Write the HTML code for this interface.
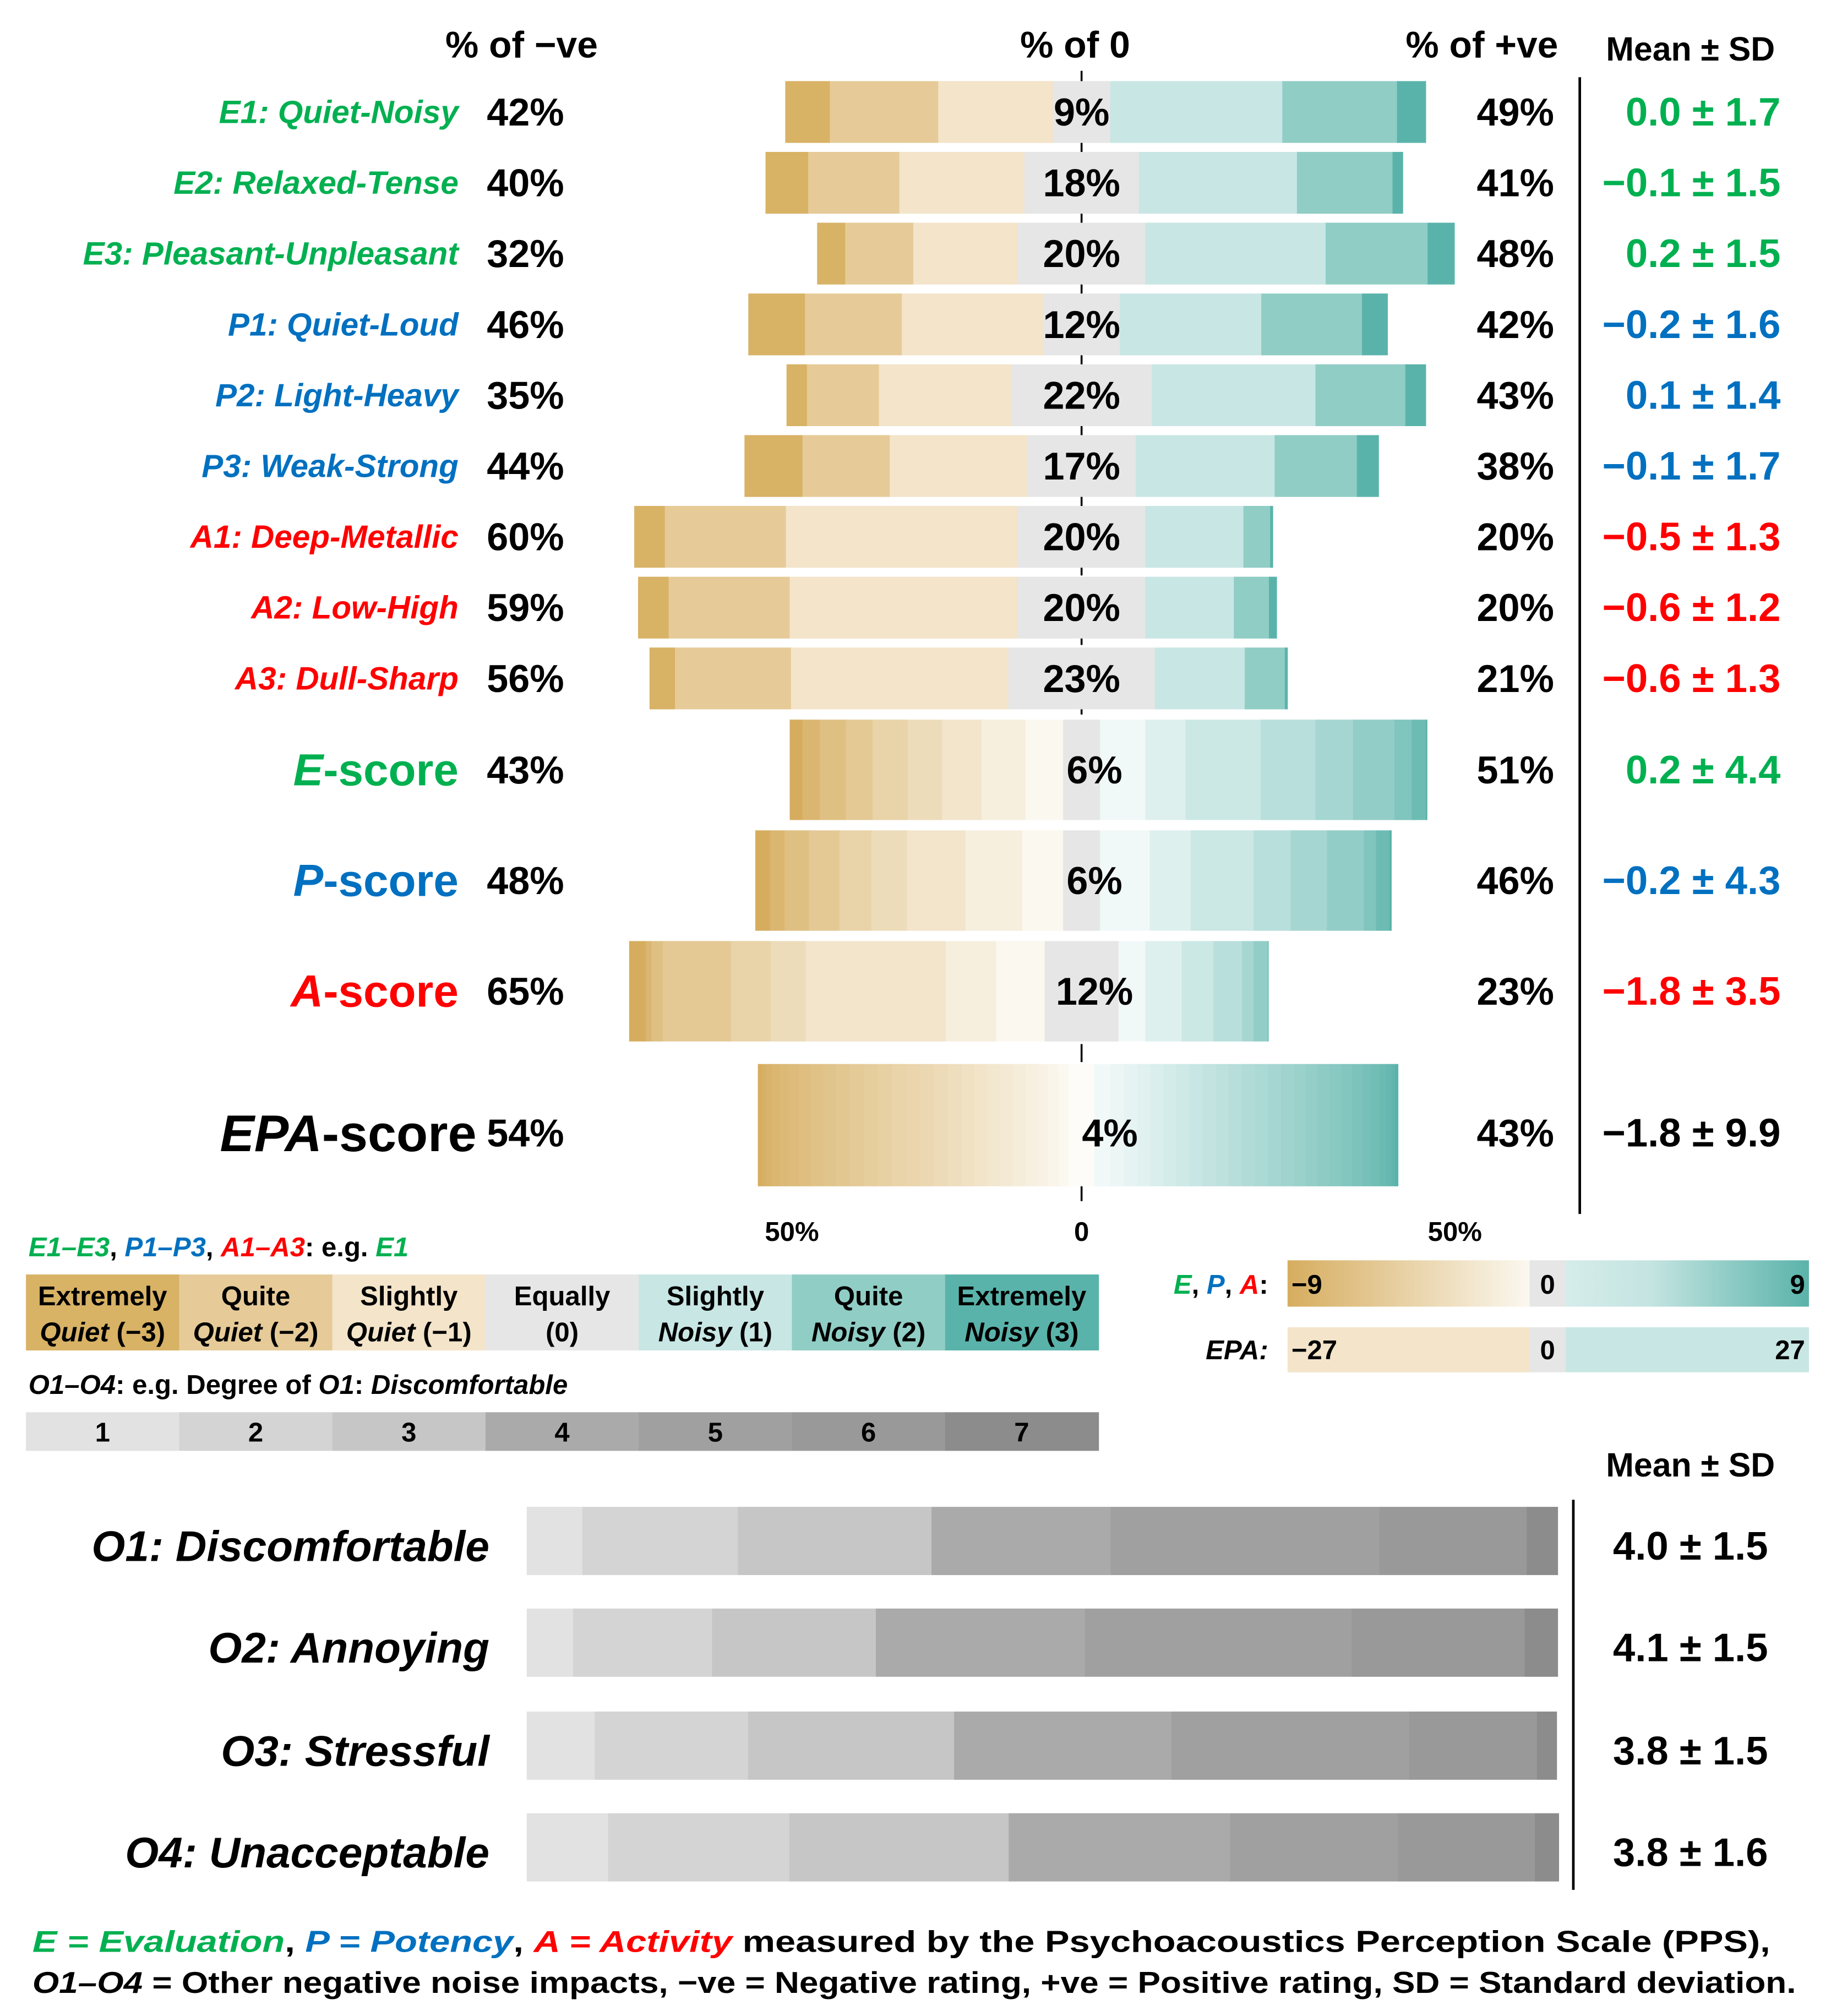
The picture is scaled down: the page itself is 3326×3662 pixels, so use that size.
<!DOCTYPE html>
<html><head><meta charset="utf-8"><style>
html,body{margin:0;padding:0;background:#fff}
svg{display:block}
text{font-family:"Liberation Sans",sans-serif;font-weight:bold}
</style></head><body>
<svg id="chart" xmlns="http://www.w3.org/2000/svg" width="3326" height="3662" viewBox="0 0 1422 1566">
<g id="g"></g>
</svg>
<script>
// ---- data ----
const itemLabels = ["E1","E2","E3","P1","P2","P3","A1","A2","A3"];
const itemNames = [": Quiet-Noisy",": Relaxed-Tense",": Pleasant-Unpleasant",": Quiet-Loud",": Light-Heavy",": Weak-Strong",": Deep-Metallic",": Low-High",": Dull-Sharp"];
const itemGroup = ["E","E","E","P","P","P","A","A","A"];
// percentages for -3,-2,-1,0,+1,+2,+3
const itemValues = [
 [7,17,18,9,27,18,4.5],
 [6.7,14.3,19.6,18,24.8,15,1.6],
 [4.4,10.7,16.4,20,28.3,16,4.2],
 [8.9,15.2,22.2,12,22.2,15.8,4],
 [3.2,11.3,20.8,22,25.7,14.1,3.2],
 [9.1,13.7,21.6,17,21.8,12.9,3.4],
 [4.8,19,36.4,20,15.4,4.2,0.4],
 [4.8,19,35.8,20,13.9,5.5,1.2],
 [4,18.2,34.1,23,14.1,6.3,0.4]
];
const itemNeg = ["42%","40%","32%","46%","35%","44%","60%","59%","56%"];
const itemZero = ["9%","18%","20%","12%","22%","17%","20%","20%","23%"];
const itemPos = ["49%","41%","48%","42%","43%","38%","20%","20%","21%"];
const itemMean = ["0.0 ± 1.7","−0.1 ± 1.5","0.2 ± 1.5","−0.2 ± 1.6","0.1 ± 1.4","−0.1 ± 1.7","−0.5 ± 1.3","−0.6 ± 1.2","−0.6 ± 1.3"];
// score values -9..-1 | 0 | +1..+9
const eNeg = [2.0,2.7,4.1,4.2,5.5,5.4,6.2,6.9,5.9];
const eZero = 5.8;
const ePos = [7.1,6.3,11.8,8.6,5.9,6.5,2.7,2.2,0.2];
const pNeg = [2.3,2.3,3.8,4.8,5.0,5.6,9.2,8.9,6.4];
const pZero = 5.8;
const pPos = [7.8,6.4,9.9,5.8,5.7,5.8,1.9,2.1,0.3];
const aNeg = [2.6,0.9,1.8,10.7,6.2,5.5,22,7.9,7.6];
const aZero = 11.6;
const aPos = [4.2,5.7,5.0,4.5,1.8,2.2,0.1,0,0];
const scoreNegText = ["43%","48%","65%"];
const scoreZeroText = ["6%","6%","12%"];
const scorePosText = ["51%","46%","23%"];
const scoreMean = ["0.2 ± 4.4","−0.2 ± 4.3","−1.8 ± 3.5"];
// EPA -27..-1 | 0 | +1..+27
const epaNeg = [0.6,0.6,1,1.2,1.4,1.6,1.8,2,2,2.2,2.2,2.2,2.2,2.2,2.2,2.2,2.2,2.2,2.0,2.0,2.0,2,2,2,1.6,1.6,1.6];
const epaZero = 4;
const epaPos = [2.45,2.25,2.05,2.05,2.05,2.05,2.05,2.05,2.05,2.05,2.05,2.05,2.05,2.05,2.05,1.85,1.85,1.85,1.85,1.65,1.65,1.45,1.25,1.05,0.85,0.55,0.45];
// O items, degrees 1..7
const oLabels = ["O1",  "O2", "O3", "O4"];
const oNames = [": Discomfortable",": Annoying",": Stressful",": Unacceptable"];
const oValues = [
 [5.4,15.1,18.8,17.4,26.1,14.3,3.0],
 [4.5,13.5,15.9,20.3,25.9,16.8,3.2],
 [6.6,14.9,20,21.1,23.1,12.4,1.9],
 [7.9,17.6,21.3,21.5,16.3,13.3,2.3]
];
const oMean = ["4.0 ± 1.5","4.1 ± 1.5","3.8 ± 1.5","3.8 ± 1.6"];

// ---- helpers ----
const NS="http://www.w3.org/2000/svg";
const G=document.getElementById('g');
const CX=840, PX=4.95;
const xs = p => p*PX; // percent -> px
const col = {E:"#00b050",P:"#0070c0",A:"#ff0000"};
const C7 = ["#d8b265","#e6cb98","#f3e4ca","#e6e6e6","#c8e6e4","#90cdc5","#5ab3aa"];
const O7 = ["#e2e2e2","#d4d4d4","#c6c6c6","#aaaaaa","#a0a0a0","#999999","#8c8c8c"];
function mk(tag,attrs,parent){const e=document.createElementNS(NS,tag);for(const k in attrs)e.setAttribute(k,attrs[k]);(parent||G).appendChild(e);return e;}
function txt(x,y,s,size,anchor,fill,style,parent){const t=mk('text',{x:x,y:y,'font-size':size,'text-anchor':anchor||'start',fill:fill||'#000','dominant-baseline':'central'},parent);if(style)t.setAttribute('font-style',style);t.textContent=s;return t;}
function lerp(a,b,t){const pa=[1,3,5].map(i=>parseInt(a.substr(i,2),16)),pb=[1,3,5].map(i=>parseInt(b.substr(i,2),16));return 'rgb('+pa.map((v,i)=>Math.round(v+(pb[i]-v)*t)).join(',')+')';}
function drawDiverging(neg,zero,pos,negCols,zeroCol,posCols,y,h,name){
  const g=mk('g',{});
  
  
  let total=neg.reduce((a,b)=>a+b,0);
  let x=CX-xs(zero/2)-xs(total);
  neg.forEach((v,i)=>{const r=mk('rect',{x:x,y:y-h/2,width:xs(v)+0.3,height:h,fill:negCols[i]},g);x+=xs(v);});
  const z=mk('rect',{x:x,y:y-h/2,width:xs(zero)+0.3,height:h,fill:zeroCol},g);x+=xs(zero);
  pos.forEach((v,i)=>{const r=mk('rect',{x:x,y:y-h/2,width:xs(v)+0.3,height:h,fill:posCols[i]},g);x+=xs(v);});
}
function negScale(n){const a=[];for(let i=0;i<n;i++)a.push(lerp("#d6ad5f","#fbf8f0",i/(n-1)));return a;}
function posScale(n){const a=[];for(let i=0;i<n;i++)a.push(lerp("#f1f9f8","#5ab3aa",i/(n-1)));return a;}

// headers
txt(405,35,"% of −ve",29,'middle');
txt(835,35,"% of 0",29,'middle');
txt(1151,35,"% of +ve",29,'middle');
txt(1313,38,"Mean ±  SD",26,'middle');

// center axis ticks
mk('line',{x1:CX,y1:55,x2:CX,y2:940,stroke:'#000','stroke-width':1.5,'stroke-dasharray':'14 40','stroke-dashoffset':0});
mk('line',{x1:1227,y1:60,x2:1227,y2:943,stroke:'#000','stroke-width':2});

// item rows
itemValues.forEach((v,i)=>{
  const y=87+55*i;
  drawDiverging(v.slice(0,3),v[3],v.slice(4),C7.slice(0,3),C7[3],C7.slice(4),y,48,'bar-'+itemLabels[i].toLowerCase());
  const t=txt(356,y,"",25,'end',col[itemGroup[i]],'italic');
  
  
  const s1=mk('tspan',{},t);s1.textContent=itemLabels[i];
  const s2=mk('tspan',{'font-style':'italic'},t);s2.textContent=itemNames[i];
  txt(378,y,itemNeg[i],30,'start');
  txt(CX,y,itemZero[i],30,'middle');
  txt(1207,y,itemPos[i],30,'end');
  txt(1383,y,itemMean[i],31,'end',col[itemGroup[i]]);
});

// score rows
const scoreData=[[eNeg,eZero,ePos],[pNeg,pZero,pPos],[aNeg,aZero,aPos]];
const scoreY=[598,684,770];
const scoreG=["E","P","A"];
scoreData.forEach((d,i)=>{
  drawDiverging(d[0],d[1],d[2],negScale(9),"#e6e6e6",posScale(9),scoreY[i],78,'bar-'+scoreG[i].toLowerCase()+'-score');
  const t=txt(356,scoreY[i],"",35,'end',col[scoreG[i]]);
  
  
  const s1=mk('tspan',{'font-style':'italic'},t);s1.textContent=scoreG[i];
  const s2=mk('tspan',{},t);s2.textContent="-score";
  txt(378,scoreY[i],scoreNegText[i],30,'start');
  txt(CX+10,scoreY[i],scoreZeroText[i],30,'middle');
  txt(1207,scoreY[i],scorePosText[i],30,'end');
  txt(1383,scoreY[i],scoreMean[i],31,'end',col[scoreG[i]]);
});
// EPA
drawDiverging(epaNeg,epaZero,epaPos,negScale(27),"#fdfcf8",posScale(27),874,95,'bar-epa-score');
(function(){const t=txt(370,880,"",40,'end','#000');
const a=mk('tspan',{'font-style':'italic'},t);a.textContent="EPA";const b=mk('tspan',{},t);b.textContent="-score";})();
txt(378,880,"54%",30,'start');
txt(862,880,"4%",30,'middle');
txt(1207,880,"43%",30,'end');
txt(1383,880,"−1.8 ± 9.9",31,'end');
txt(615,957,"50%",21,'middle');
txt(840,957,"0",21,'middle');
txt(1130,957,"50%",21,'middle');

// legend 1
(function(){const t=txt(22,969,"",21,'start','#000');
[["E1–E3",col.E,1],[", ","#000",0],["P1–P3",col.P,1],[", ","#000",0],["A1–A3",col.A,1],[": e.g. ","#000",0],["E1",col.E,1]].forEach(p=>{const s=mk('tspan',{fill:p[1]},t);if(p[2])s.setAttribute('font-style','italic');s.textContent=p[0];});})();
const leg1a=["Extremely","Quite","Slightly","Equally","Slightly","Quite","Extremely"];
const leg1b=[["Quiet"," (−3)"],["Quiet"," (−2)"],["Quiet"," (−1)"],[""," (0)"],["Noisy"," (1)"],["Noisy"," (2)"],["Noisy"," (3)"]];
leg1a.forEach((s,i)=>{
  const x=20+i*119;
  const r=mk('rect',{x:x,y:990,width:119.5,height:59,fill:C7[i]});
  
  
  txt(x+59.5,1007,s,21,'middle');
  const t=txt(x+59.5,1035,"",21,'middle');
  const a=mk('tspan',{'font-style':'italic'},t);a.textContent=leg1b[i][0];
  const b=mk('tspan',{},t);b.textContent=leg1b[i][1];
});
(function(){const t=txt(22,1076,"",21,'start');
[["O1–O4",1],[": e.g. Degree of ",0],["O1",1],[": ",0],["Discomfortable",1]].forEach(p=>{const s=mk('tspan',{},t);if(p[1])s.setAttribute('font-style','italic');s.textContent=p[0];});})();
O7.forEach((c,i)=>{
  const x=20+i*119;
  const r=mk('rect',{x:x,y:1097,width:119.5,height:30,fill:c});
  
  
  txt(x+59.5,1113,String(i+1),21,'middle');
});
// colorbars
(function(){const t=txt(985,998,"",21,'end');
[["E",col.E,1],[", ","#000",0],["P",col.P,1],[", ","#000",0],["A",col.A,1],[":","#000",0]].forEach(p=>{const s=mk('tspan',{fill:p[1]},t);if(p[2])s.setAttribute('font-style','italic');s.textContent=p[0];});})();
const defs=mk('defs',{});
const g1=mk('linearGradient',{id:'gn',x1:0,x2:1,y1:0,y2:0},defs);
mk('stop',{offset:0,'stop-color':'#d6ad5f'},g1);mk('stop',{offset:1,'stop-color':'#fbf8f0'},g1);
const g2=mk('linearGradient',{id:'gp',x1:0,x2:1,y1:0,y2:0},defs);
mk('stop',{offset:0,'stop-color':'#d5ecea'},g2);mk('stop',{offset:0.35,'stop-color':'#c4e4e1'},g2);mk('stop',{offset:1,'stop-color':'#5ab3aa'},g2);
mk('rect',{x:1000,y:979,width:188,height:36,fill:'url(#gn)'});
mk('rect',{x:1188,y:979,width:28,height:36,fill:'#e6e6e6'});
mk('rect',{x:1216,y:979,width:189,height:36,fill:'url(#gp)'});
txt(1003,998,"−9",21,'start');txt(1202,998,"0",21,'middle');txt(1402,998,"9",21,'end');
(function(){const t=txt(985,1049,"EPA:",21,'end');t.setAttribute('font-style','italic');})();
mk('rect',{x:1000,y:1031,width:188,height:35,fill:'#f3e4ca'});
mk('rect',{x:1188,y:1031,width:28,height:35,fill:'#e6e6e6'});
mk('rect',{x:1216,y:1031,width:189,height:35,fill:'#c8e6e4'});
txt(1003,1049,"−27",21,'start');txt(1202,1049,"0",21,'middle');txt(1402,1049,"27",21,'end');

// O chart
txt(1313,1138,"Mean ±  SD",26,'middle');
mk('line',{x1:1222,y1:1165,x2:1222,y2:1468,stroke:'#000','stroke-width':2});
const oY=[1197,1276,1356,1435];
const OX0=409, OW=800;
oValues.forEach((v,i)=>{
  const g=mk('g',{});
  
  
  let x=OX0;
  v.forEach((p,j)=>{const w=p/100*OW;const r=mk('rect',{x:x,y:oY[i]-26.5,width:w+0.3,height:53,fill:O7[j]},g);x+=w;});
  const t=txt(380,oY[i]+4,"",33.5,'end','#000','italic');
  
  
  const a=mk('tspan',{},t);a.textContent=oLabels[i];
  const b=mk('tspan',{},t);b.textContent=oNames[i];
  txt(1313,oY[i]+4,oMean[i],31,'middle');
});

// footer
(function(){const t=txt(25,1508,"",23.5,'start');
[["E = Evaluation",col.E,1],[", ","#000",0],["P = Potency",col.P,1],[", ","#000",0],["A = Activity",col.A,1],[" measured by the Psychoacoustics Perception Scale (PPS),","#000",0]].forEach(p=>{const s=mk('tspan',{fill:p[1]},t);if(p[2])s.setAttribute('font-style','italic');s.textContent=p[0];});
t.setAttribute('textLength',1350);t.setAttribute('lengthAdjust','spacingAndGlyphs');})();
(function(){const t=txt(25,1540,"",23.5,'start');
[["O1–O4",1],[" = Other negative noise impacts, −ve = Negative rating, +ve = Positive rating, SD = Standard deviation.",0]].forEach(p=>{const s=mk('tspan',{},t);if(p[1])s.setAttribute('font-style','italic');s.textContent=p[0];});
t.setAttribute('textLength',1370);t.setAttribute('lengthAdjust','spacingAndGlyphs');})();
</script>
</body></html>
